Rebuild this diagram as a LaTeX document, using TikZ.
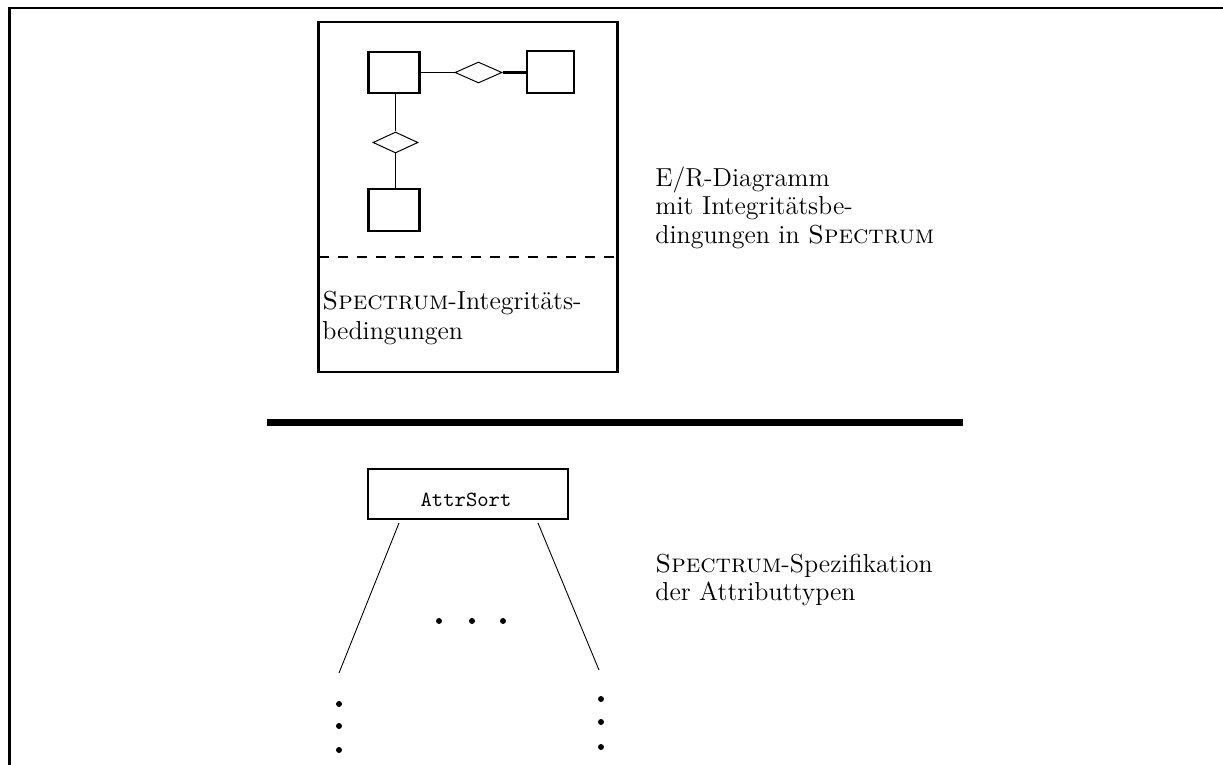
\documentclass[tikz,border=0pt]{standalone}
\usetikzlibrary{shapes.geometric}
\begin{document}
\begin{tikzpicture}[x=0.5pt,y=-0.5pt,
  entity/.style={draw, line width=1.3pt, rectangle, inner sep=0pt},
  relation/.style={draw, line width=0.5pt, diamond, inner sep=0pt, minimum width=23.5pt, minimum height=10.5pt},
  conn/.style={line width=0.8pt},
  thickconn/.style={line width=1.5pt},
  framebox/.style={draw, line width=1.4pt, rectangle, inner sep=0pt},
  txt/.style={inner sep=0pt, anchor=base west, align=left},
  thinline/.style={line width=0.45pt},
  dotfill/.style={fill=black}
]
\useasboundingbox (0,0) rectangle (1223,765);
% frame
\draw[line width=1.4pt, line join=miter] (9.5,765) -- (9.5,8) -- (1223,8);
% outer E/R box
\node[framebox, minimum width=149.5pt, minimum height=175pt] (outer) at (468,197) {};
% entities
\node[entity, minimum width=25.5pt, minimum height=20.5pt] (e1) at (394,72.5) {};
\node[entity, minimum width=23.5pt, minimum height=21pt] (e2) at (550.5,72) {};
\node[entity, minimum width=25.5pt, minimum height=21pt] (e3) at (394,210) {};
% relations
\node[relation] (r1) at (478.5,72.5) {};
\node[relation, minimum width=22.5pt] (r2) at (395.5,142.5) {};
% connectors
\draw[conn] (e1.east) -- (r1.west);
\draw[thickconn] (r1.east) -- (r1.east -| e2.west);
\draw[conn] (r2.north |- e1.south) -- (r2.north);
\draw[conn] (r2.south) -- (r2.south |- e3.north);
% dashed separator
\coordinate (dl) at (319,257);
\coordinate (dr) at (617,257);
\draw[line width=0.7pt, dash pattern=on 5pt off 4.5pt] (dl) -- (dr);
% texts in box (base anchor = baseline of last line)
\node[txt, font={\fontsize{13}{15}\selectfont}] (spec1) at (322,340) {\textsc{Spectrum}-Integrit\"ats-\\bedingungen};
% right texts
\node[txt, font={\fontsize{13}{14.2}\selectfont}] (lab1) at (655,243) {E/R-Diagramm\\mit Integrit\"atsbe-\\dingungen in \textsc{Spectrum}};
\node[txt, font={\fontsize{13}{14}\selectfont}] (lab2) at (655,600) {\textsc{Spectrum}-Spezifikation\\der Attributtypen};
% thick rule
\coordinate (hl) at (267,422);
\coordinate (hr) at (963,422);
\draw[line width=3.5pt] (hl) -- (hr);
% AttrSort box
\node[framebox, line width=1.2pt, minimum width=100pt, minimum height=25pt] (attr) at (468,494) {};
\node[inner sep=0pt, font={\fontsize{10.8}{12}\ttfamily}] (attrtxt) at (466,500) {AttrSort};
\coordinate (la1) at (399,523);
\coordinate (la2) at (339,673);
\coordinate (ra1) at (538,523);
\coordinate (ra2) at (599,670);
\draw[thinline] (la1) -- (la2);
\draw[thinline] (ra1) -- (ra2);
% dots
\foreach \px in {439,472,503} \fill[dotfill] (\px,621) circle[radius=1.5pt];
\foreach \py in {704,726,750} \fill[dotfill] (339,\py) circle[radius=1.5pt];
\foreach \py in {699,722,747} \fill[dotfill] (601,\py) circle[radius=1.5pt];
\end{tikzpicture}
\end{document}
